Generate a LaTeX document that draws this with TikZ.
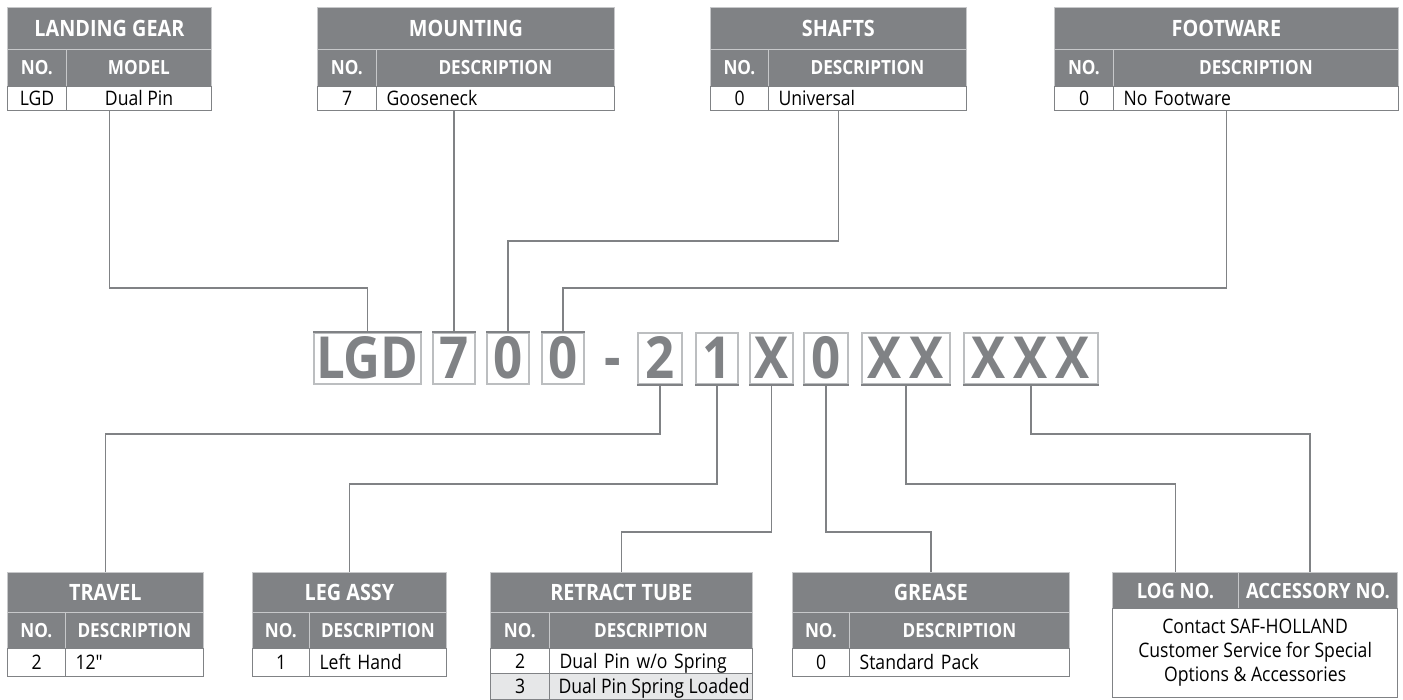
\documentclass[tikz,border=0pt]{standalone}
\usepackage{fontspec}
\setmainfont{Open Sans}[FakeStretch=0.88]
\usetikzlibrary{calc}
\definecolor{hdrgray}{HTML}{808285}
\definecolor{hdrline}{HTML}{C7C8CA}
\definecolor{boxgray}{HTML}{BCBEC0}
\definecolor{rowgray}{HTML}{E6E7E8}
\newcommand\titlefont{\bfseries\fontsize{22.5}{26}\selectfont}
\newcommand\hdrfont{\bfseries\fontsize{19.5}{22}\selectfont}
\newcommand\datafont{\fontsize{20}{24}\selectfont}
\newcommand\codefont{\bfseries\fontsize{58}{60}\selectfont}
\tikzset{
 hdrcell/.style={anchor=north west,fill=hdrgray,draw=hdrline,line width=.8pt,text=white,inner sep=0,font=\hdrfont,text height=14pt,text depth=0pt},
 titlecell/.style={hdrcell,font=\titlefont,text height=16pt},
 numcell/.style={anchor=north west,draw=hdrgray,fill=white,line width=1.2pt,inner sep=0,font=\datafont,text height=14.5pt,text depth=0pt},
 desccell/.style={numcell,inner xsep=10pt,align=left},
 logbody/.style={anchor=north west,draw=hdrgray,fill=white,line width=1.2pt,inner sep=0,font=\datafont,align=center},
 codebox/.style={anchor=north west,draw=boxgray,line width=1.8pt,text=hdrgray,inner sep=0,font=\codefont,minimum height=51,text height=41pt,text depth=0pt},
 wire/.style={draw=hdrgray,line width=1.8pt}
}

\begin{document}
\begin{tikzpicture}[x=1pt,y=-1pt]
\path[use as bounding box] (0,0) rectangle (1403,700);
% top tables
\node[titlecell,minimum width=204,minimum height=42] (lgtitle) at (7,7) {LANDING GEAR};
\node[hdrcell,minimum width=59,minimum height=37] (lgno) at (7,49) {NO.};
\node[hdrcell,minimum width=145,minimum height=37] (lgcol) at (66,49) {MODEL};
\node[numcell,minimum width=59,minimum height=24] (lgnum) at (7,86) {LGD};
\node[numcell,minimum width=145,minimum height=24] (lgdesc) at (66,86) {Dual Pin};

\node[titlecell,minimum width=297,minimum height=42] (mttitle) at (317,7) {MOUNTING};
\node[hdrcell,minimum width=59,minimum height=37] (mtno) at (317,49) {NO.};
\node[hdrcell,minimum width=238,minimum height=37] (mtcol) at (376,49) {DESCRIPTION};
\node[numcell,minimum width=59,minimum height=24] (mtnum) at (317,86) {7};
\node[desccell,text width=218,minimum height=24] (mtdesc) at (376,86) {Gooseneck};

\node[titlecell,minimum width=256,minimum height=42] (shtitle) at (710,7) {SHAFTS};
\node[hdrcell,minimum width=58,minimum height=37] (shno) at (710,49) {NO.};
\node[hdrcell,minimum width=198,minimum height=37] (shcol) at (768,49) {DESCRIPTION};
\node[numcell,minimum width=58,minimum height=24] (shnum) at (710,86) {0};
\node[desccell,text width=178,minimum height=24] (shdesc) at (768,86) {Universal};

\node[titlecell,minimum width=344,minimum height=42] (fwtitle) at (1054,7) {FOOTWARE};
\node[hdrcell,minimum width=59,minimum height=37] (fwno) at (1054,49) {NO.};
\node[hdrcell,minimum width=285,minimum height=37] (fwcol) at (1113,49) {DESCRIPTION};
\node[numcell,minimum width=59,minimum height=24] (fwnum) at (1054,86) {0};
\node[desccell,text width=265,minimum height=24] (fwdesc) at (1113,86) {No Footware};

% part number
\node[codebox,minimum width=107] (cLGD) at (313,332) {LGD};
\node[codebox,minimum width=42] (c7) at (432,332) {7};
\node[codebox,minimum width=42] (c0a) at (486,332) {0};
\node[codebox,minimum width=42] (c0b) at (541,332) {0};
\node[font=\codefont,text=hdrgray,anchor=base,inner sep=0] (hyph) at (613,378) {-};
\node[codebox,minimum width=44] (c2) at (637,332) {2};
\node[codebox,minimum width=42] (c1) at (695,332) {1};
\node[codebox,minimum width=43] (cX) at (749,332) {X};
\node[codebox,minimum width=44] (c0c) at (803,332) {0};
\node[codebox,minimum width=88] (cXX) at (861,332) {X\hspace{8pt}X};
\node[codebox,minimum width=134] (cXXX) at (963,332) {X\hspace{8pt}X\hspace{8pt}X};
\draw[wire] (cLGD.north west) -- (cLGD.north east);
\draw[wire] (c7.north west) -- (c7.north east);
\draw[wire] (c0a.north west) -- (c0a.north east);
\draw[wire] (c0b.north west) -- (c0b.north east);
\draw[wire] (c2.south west) -- (c2.south east);
\draw[wire] (c1.south west) -- (c1.south east);
\draw[wire] (cX.south west) -- (cX.south east);
\draw[wire] (c0c.south west) -- (c0c.south east);
\draw[wire] (cXX.south west) -- (cXX.south east);
\draw[wire] (cXXX.south west) -- (cXXX.south east);

% bottom tables
\node[titlecell,minimum width=196,minimum height=40] (trtitle) at (7,572) {TRAVEL};
\node[hdrcell,minimum width=58,minimum height=36] (trno) at (7,612) {NO.};
\node[hdrcell,minimum width=138,minimum height=36] (trcol) at (65,612) {DESCRIPTION};
\node[numcell,minimum width=58,minimum height=28] (trnum) at (7,648) {2};
\node[desccell,text width=118,minimum height=28] (trdesc) at (65,648) {12″};

\node[titlecell,minimum width=194,minimum height=40] (latitle) at (252,572) {LEG ASSY};
\node[hdrcell,minimum width=57,minimum height=36] (lano) at (252,612) {NO.};
\node[hdrcell,minimum width=137,minimum height=36] (lacol) at (309,612) {DESCRIPTION};
\node[numcell,minimum width=57,minimum height=28] (lanum) at (252,648) {1};
\node[desccell,text width=117,minimum height=28] (ladesc) at (309,648) {Left Hand};

\node[titlecell,minimum width=262,minimum height=40] (rttitle) at (490,572) {RETRACT TUBE};
\node[hdrcell,minimum width=59,minimum height=36] (rtno) at (490,612) {NO.};
\node[hdrcell,minimum width=203,minimum height=36] (rtcol) at (549,612) {DESCRIPTION};
\node[numcell,minimum width=59,minimum height=25] (rtnuma) at (490,648) {2};
\node[desccell,text width=183,minimum height=25] (rtdesca) at (549,648) {Dual Pin w/o Spring};
\node[numcell,fill=rowgray,minimum width=59,minimum height=26] (rtnumb) at (490,673) {3};
\node[numcell,fill=rowgray,minimum width=203,minimum height=26] (rtdescb) at (549,673) {\makebox[185pt][l]{Dual Pin Spring Loaded}};

\node[titlecell,minimum width=277,minimum height=40] (grtitle) at (792,572) {GREASE};
\node[hdrcell,minimum width=57,minimum height=36] (grno) at (792,612) {NO.};
\node[hdrcell,minimum width=220,minimum height=36] (grcol) at (849,612) {DESCRIPTION};
\node[numcell,minimum width=57,minimum height=28] (grnum) at (792,648) {0};
\node[desccell,text width=200,minimum height=28] (grdesc) at (849,648) {Standard Pack};

\node[titlecell,font=\bfseries\fontsize{21}{24}\selectfont,minimum width=126,minimum height=36] (lognum) at (1112,572) {LOG NO.};
\node[titlecell,font=\bfseries\fontsize{21}{24}\selectfont,minimum width=159,minimum height=36] (accnum) at (1238,572) {ACCESSORY NO.};
\node[logbody,minimum width=285,minimum height=89] (logtext) at (1112,608)
 {Contact SAF-HOLLAND\\Customer Service for Special\\Options \& Accessories};

% connectors
\draw[wire] (lgtitle.center |- lgdesc.south) -- ++(0,177) -| (cLGD.north);
\draw[wire] (c7.north) -- (c7.north |- mtdesc.south);
\draw[wire] (shtitle.center |- shdesc.south) -- ++(0,130) -| (c0a.north);
\draw[wire] (fwtitle.center |- fwdesc.south) -- ++(0,177) -| (c0b.north);
\draw[wire] (c2.south) -- ++(0,49) -| (trtitle.north);
\draw[wire] (c1.south) -- ++(0,99) -| (latitle.north);
\draw[wire] (cX.south) -- ++(0,147) -| (rttitle.north);
\draw[wire] (c0c.south) -- ++(0,147) -| (grtitle.north);
\draw[wire] (cXX.south) -- ++(0,99) -| (lognum.north);
\draw[wire] (cXXX.south) -- ++(0,49) -| ([xshift=-8pt]accnum.north);
\end{tikzpicture}
\end{document}
